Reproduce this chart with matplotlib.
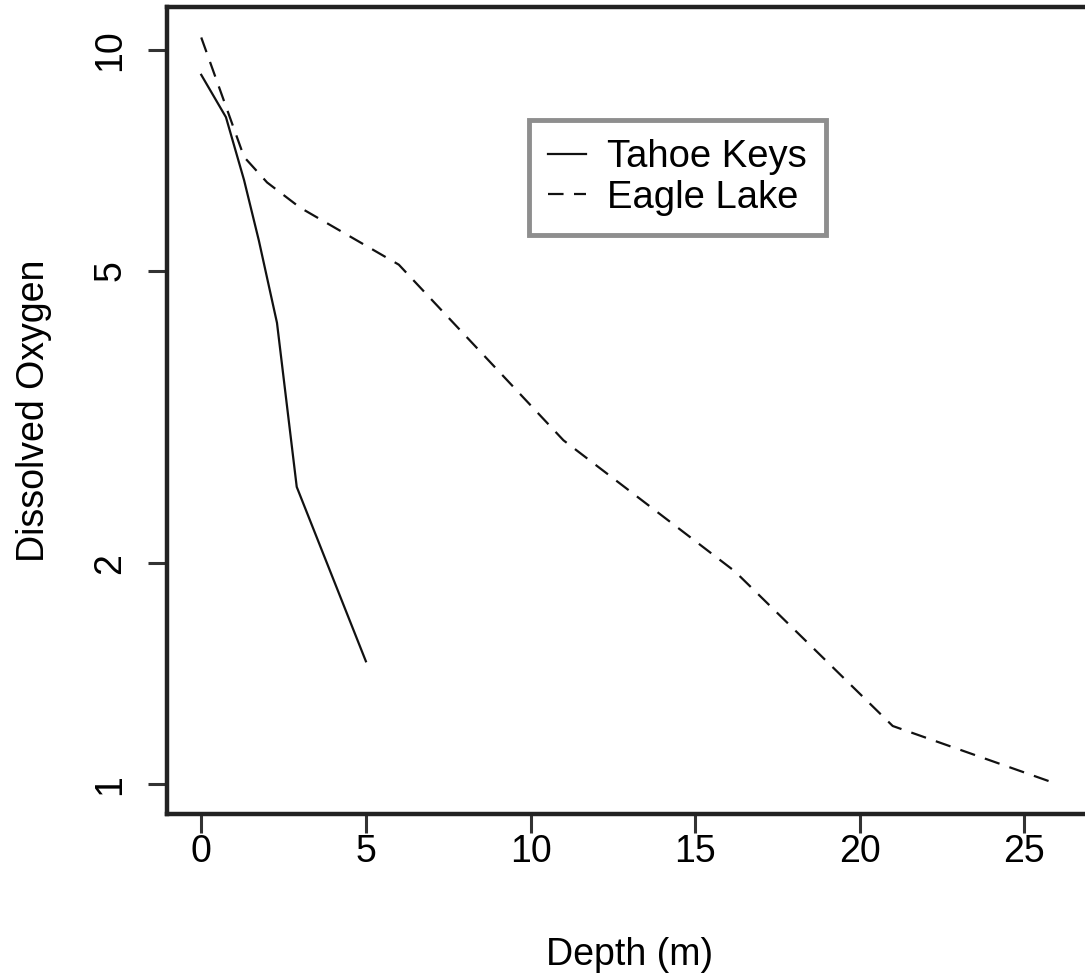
import matplotlib
matplotlib.use("Agg")
import matplotlib.pyplot as plt
from matplotlib.ticker import FixedLocator, NullLocator

# values (depth in m, dissolved oxygen)
tahoe_depth = [0, 0.75, 1.3, 1.75, 2.3, 2.9, 5]
tahoe_do = [9.25, 8.1, 6.65, 5.5, 4.25, 2.54, 1.47]
eagle_depth = [0, 1.3, 2, 3, 6, 11, 16.2, 21, 26]
eagle_do = [10.4, 7.15, 6.6, 6.1, 5.1, 2.94, 1.95, 1.2, 1.0]

x_ticks = [0, 5, 10, 15, 20, 25]
y_ticks = [1, 2, 5, 10]

plt.rcParams['font.family'] = ['Liberation Sans', 'DejaVu Sans']
fs = 27

W, H = 1085, 977
fig = plt.figure(figsize=(W / 100, H / 100), dpi=100)
# plot region in pixels: left 167, right ~1092 (cut off by the image edge), top 7, bottom 814
ax = fig.add_axes([167 / W, (H - 814) / H, (1091.6 - 167) / W, (814 - 7.4) / H])

ax.plot(tahoe_depth, tahoe_do, color='#111111', lw=1.6, label='Tahoe Keys')
ax.plot(eagle_depth, eagle_do, color='#111111', lw=1.6, dashes=[7, 4.7], label='Eagle Lake')

ax.set_yscale('log')
ax.set_xlim(-1.04, 27.04)
ax.set_ylim(10 ** -0.0407, 10 ** 1.058)

ax.xaxis.set_major_locator(FixedLocator(x_ticks))
ax.set_xticklabels([str(t) for t in x_ticks])
ax.yaxis.set_major_locator(FixedLocator(y_ticks))
ax.yaxis.set_minor_locator(NullLocator())
ax.set_yticklabels([str(t) for t in y_ticks])

for s in ax.spines.values():
    s.set_linewidth(3.2)
    s.set_color('#222222')

ax.tick_params(axis='both', which='major', direction='out', length=14,
               width=2.2, color='#333333', labelsize=fs)
ax.tick_params(axis='x', pad=0.5)
ax.tick_params(axis='y', pad=14, labelrotation=90)
for lab in ax.get_yticklabels():
    lab.set_va('center')

ax.set_xlabel('Depth (m)', fontsize=fs)
ax.set_ylabel('Dissolved Oxygen', fontsize=fs)
ax.xaxis.set_label_coords(0.5008, -0.1748)
ax.xaxis.label.set_va('center')
ax.yaxis.set_label_coords(-0.1438, 0.5)
ax.yaxis.label.set_va('center')

leg = ax.legend(loc='upper left', bbox_to_anchor=(0.3915, 0.8604), borderaxespad=0,
                fontsize=27.5, handlelength=1.0, handletextpad=0.55, borderpad=0.5,
                labelspacing=0.12, fancybox=False, framealpha=1)
leg.get_frame().set_edgecolor('#8e8e8e')
leg.get_frame().set_linewidth(3.5)

fig.savefig('out.png', dpi=100)
